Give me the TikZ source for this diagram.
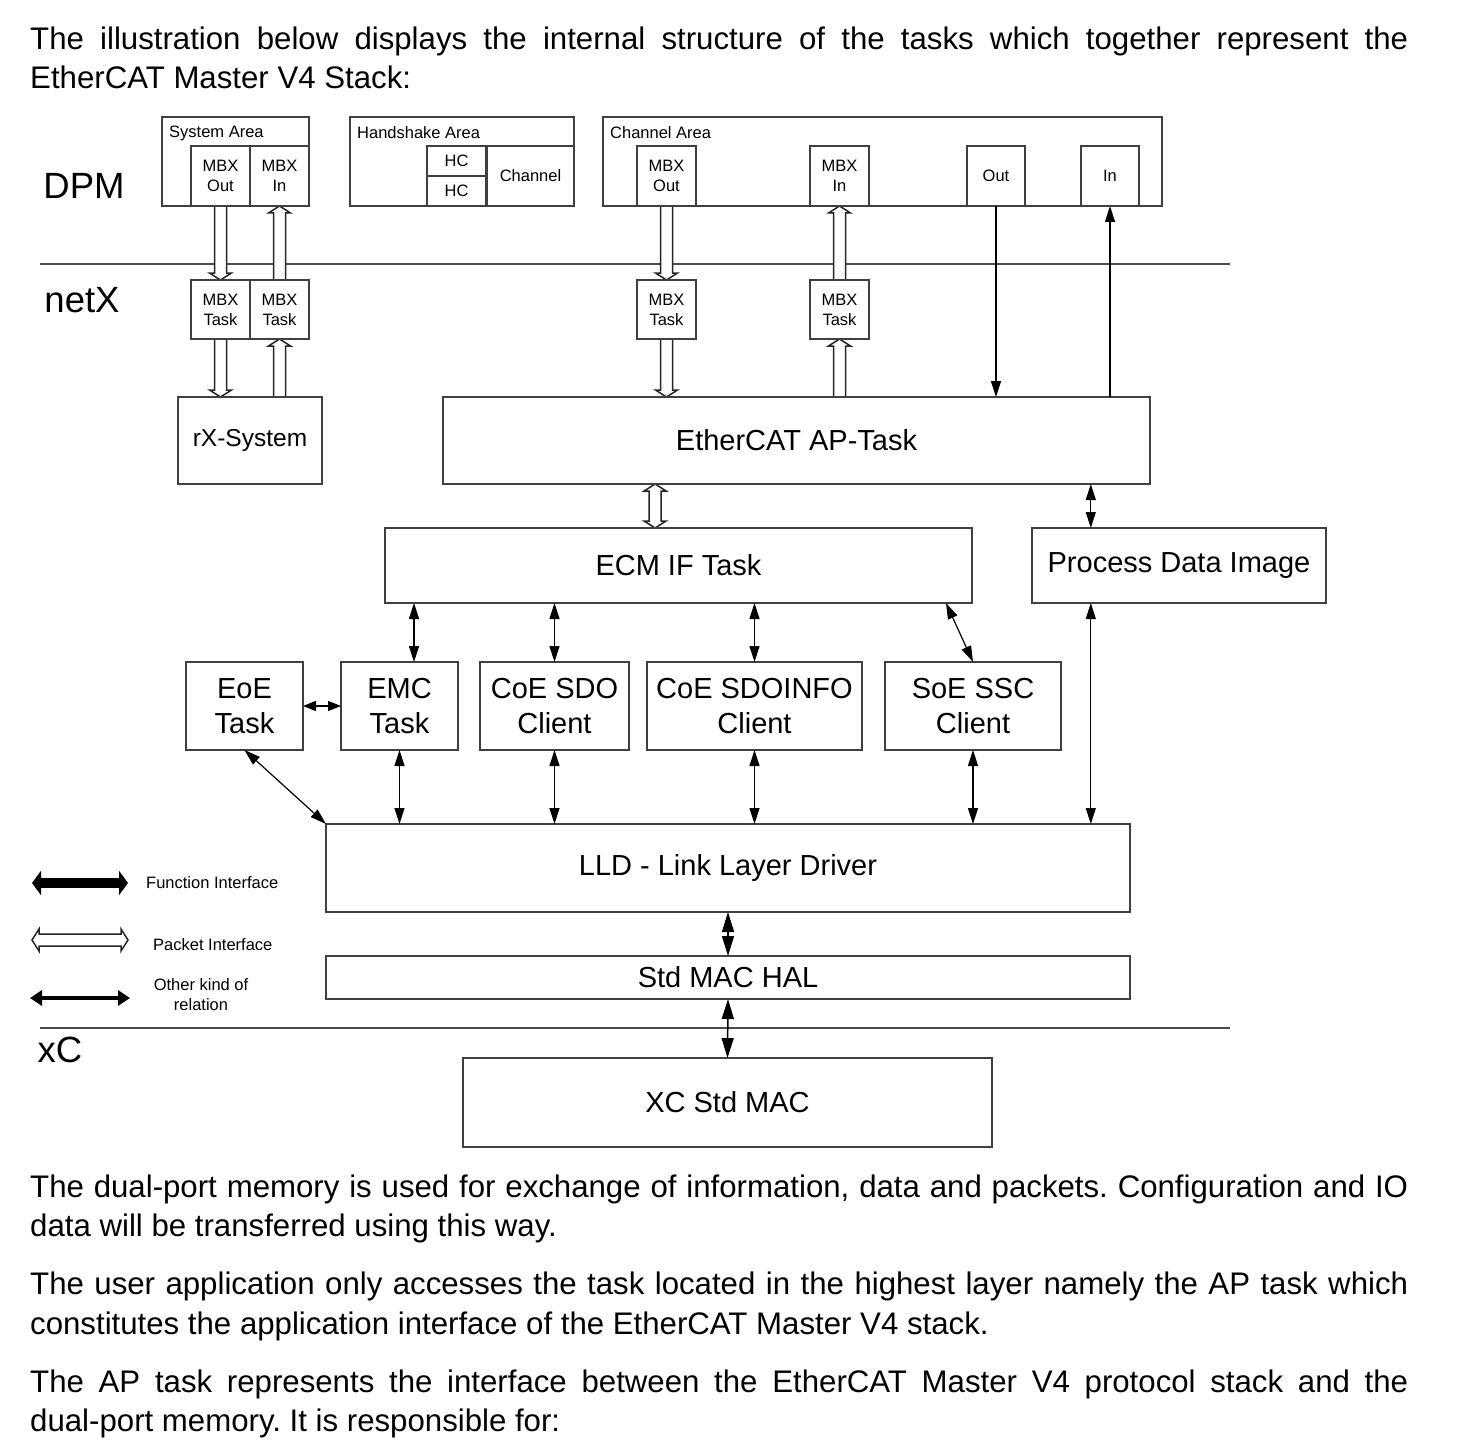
\documentclass[tikz,border=0pt]{standalone}
\usepackage{fontspec}
\setmainfont{Liberation Sans}
\usepackage{tikz}
\usetikzlibrary{positioning}
\usetikzlibrary{arrows.meta, calc}
\pgfdeclarelayer{background}
\pgfsetlayers{background,main}
\frenchspacing

\newcommand{\bodysize}{\fontsize{31.2}{39}\selectfont}
\newcommand{\tasksize}{\fontsize{29}{35}\selectfont}
\newcommand{\smallsize}{\fontsize{16.5}{20}\selectfont}
\newcommand{\layersize}{\fontsize{36.5}{40}\selectfont}

\tikzstyle{box} = [draw=black!75, line width=1.5pt, inner sep=0pt, outer sep=0pt, align=center]
\tikzstyle{task} = [box, font=\tasksize]
\tikzstyle{mbx} = [box, font=\smallsize]
\tikzstyle{areatext} = [inner sep=0pt, font=\smallsize, align=center]
\tikzstyle{bodytext} = [inner sep=0pt, font=\bodysize]
\tikzstyle{layertext} = [inner sep=0pt, font=\layersize]
\tikzstyle{layer} = [line width=1.5pt, draw=black!70]
\tikzstyle{pkt} = [draw=black!85, line width=1.5pt, fill=white, line join=miter]
\tikzstyle{arrow} = [line width=1.2pt, -{Triangle[length=16pt,width=10pt]}]
\tikzstyle{twoway} = [line width=1.2pt, {Triangle[length=16pt,width=10pt]}-{Triangle[length=16pt,width=10pt]}]
\tikzstyle{shortway} = [line width=1.2pt, {Triangle[length=13pt,width=10pt]}-{Triangle[length=13pt,width=10pt]}]
\tikzstyle{halway} = [line width=1.5pt, {Triangle[length=20pt,width=12pt]}-{Triangle[length=20pt,width=12pt]}]

% hollow packet arrow, head at #2
\newcommand{\pktarrow}[2]{%
  \coordinate (pkB) at ($#2!7pt!#1$);
  \filldraw[pkt] ($#1!6pt!90:#2$) -- ($(pkB)!6pt!90:#2$) -- ($(pkB)!11pt!90:#2$) -- #2
    -- ($(pkB)!11pt!-90:#2$) -- ($(pkB)!6pt!-90:#2$) -- ($#1!6pt!-90:#2$);
}
% hollow packet arrow, heads at both ends
\newcommand{\pktboth}[2]{%
  \coordinate (pkA) at ($#1!7pt!#2$);
  \coordinate (pkB) at ($#2!7pt!#1$);
  \filldraw[pkt] ($(pkA)!6pt!90:#2$) -- ($(pkB)!6pt!90:#2$) -- ($(pkB)!11pt!90:#2$) -- #2
    -- ($(pkB)!11pt!-90:#2$) -- ($(pkB)!6pt!-90:#2$) -- ($(pkA)!6pt!-90:#2$)
    -- ($(pkA)!11pt!-90:#2$) -- #1 -- ($(pkA)!11pt!90:#2$) -- cycle;
}

\begin{document}
\begin{tikzpicture}[x=1pt, y=-1pt]
	\useasboundingbox (0,0) rectangle (1483,1450);

	%Text above
	\node[bodytext, anchor=base west] (introA) at (30,50) {\makebox[1378pt][s]{The illustration below displays the internal structure of the tasks which together represent the}};
	\node[bodytext, anchor=base west] (introB) at (30,89) {EtherCAT Master V4 Stack:};

	%Layer names
	\node[layertext] (dpm) at (84,186) {DPM};
	\node[layertext] (netx) at (82,300) {netX};
	\node[layertext] (xc) at (60,1050) {xC};

	%System area
	\node[box, minimum width=147pt, minimum height=89pt, anchor=north west] (sysArea) at (162,117) {};
	\node[areatext, anchor=west] (sysLabel) at (169,133) {System Area};
	\node[mbx, minimum width=59pt, minimum height=60pt, anchor=north west] (sysOut) at (191,146) {MBX\\Out};
	\node[mbx, minimum width=59pt, minimum height=60pt, right=0pt of sysOut] (sysIn) {MBX\\In};

	%Handshake area
	\node[box, minimum width=224pt, minimum height=89pt, anchor=north west] (hsArea) at (350,117) {};
	\node[areatext, anchor=west] (hsLabel) at (357,133) {Handshake Area};
	\node[mbx, minimum width=59pt, minimum height=30pt, anchor=north west] (hcA) at (427,146) {HC};
	\node[mbx, minimum width=59pt, minimum height=30pt, below=0pt of hcA] (hcB) {HC};
	\node[mbx, minimum width=87pt, minimum height=60pt, anchor=north west] (hsChannel) at (487,146) {Channel};

	%Channel area
	\node[box, minimum width=559pt, minimum height=89pt, anchor=north west] (chArea) at (603,117) {};
	\node[areatext, anchor=west] (chLabel) at (610,133) {Channel Area};
	\node[mbx, minimum width=59pt, minimum height=60pt, anchor=north west] (chMbxOut) at (637,146) {MBX\\Out};
	\node[mbx, minimum width=59pt, minimum height=60pt, anchor=north west] (chMbxIn) at (810,146) {MBX\\In};
	\node[mbx, minimum width=58pt, minimum height=60pt, anchor=north west] (chOut) at (967,146) {Out};
	\node[mbx, minimum width=58pt, minimum height=60pt, anchor=north west] (chIn) at (1081,146) {In};

	%netX tasks
	\node[mbx, minimum width=59pt, minimum height=59pt, anchor=north west] (taskOut) at (191,280) {MBX\\Task};
	\node[mbx, minimum width=59pt, minimum height=59pt, right=0pt of taskOut] (taskIn) {MBX\\Task};
	\node[mbx, minimum width=59pt, minimum height=59pt, anchor=north west] (chTaskOut) at (637,280) {MBX\\Task};
	\node[mbx, minimum width=59pt, minimum height=59pt, anchor=north west] (chTaskIn) at (810,280) {MBX\\Task};
	\node[box, font=\fontsize{24.5}{30}\selectfont, minimum width=144pt, minimum height=87pt, anchor=north west] (rxSystem) at (178,397) {rX-System};
	\node[task, minimum width=707pt, minimum height=87pt, anchor=north west] (apTask) at (443,397) {EtherCAT AP-Task};
	\node[task, minimum width=587pt, minimum height=75pt, anchor=north west] (ecmIf) at (385,528) {ECM IF Task};
	\node[task, minimum width=294pt, minimum height=75pt, anchor=north west] (pdi) at (1032,528) {Process Data Image};

	%Clients
	\node[task, minimum width=117pt, minimum height=88pt, anchor=north west] (eoe) at (186,662) {EoE\\Task};
	\node[task, minimum width=117pt, minimum height=88pt, anchor=north west] (emc) at (341,662) {EMC\\Task};
	\node[task, minimum width=149pt, minimum height=88pt, anchor=north west] (coeSdo) at (480,662) {CoE SDO\\Client};
	\node[task, minimum width=215pt, minimum height=88pt, anchor=north west] (coeInfo) at (647,662) {CoE SDOINFO\\Client};
	\node[task, minimum width=176pt, minimum height=88pt, anchor=north west] (soeSsc) at (885,662) {SoE SSC\\Client};

	%Driver layers
	\node[task, minimum width=804pt, minimum height=88pt, anchor=north west] (lld) at (326,824) {LLD - Link Layer Driver};
	\node[task, minimum width=804pt, minimum height=43pt, anchor=north west] (halMac) at (326,956) {Std MAC HAL};
	\node[task, minimum width=529pt, minimum height=89pt, anchor=north west] (xcMac) at (463,1058) {XC Std MAC};

	%Legend
	\coordinate (fnL) at (32,883);
	\coordinate (fnR) at (128,883);
	\coordinate (pkL) at (32,940);
	\coordinate (pkR) at (128,940);
	\coordinate (otL) at (30,998);
	\coordinate (otR) at (130,998);
	\node[areatext, anchor=west] (fnText) at (146,883) {Function Interface};
	\node[areatext, anchor=west] (pkText) at (153,945) {Packet Interface};
	\node[areatext] (otText) at (201,995) {Other kind of\\relation};

	%Coordinates
	\coordinate (apLink) at ($(apTask.south west)!0.3!(apTask.south east)$);
	\coordinate (pdiTop) at ($(pdi.north west)!0.2!(pdi.north east)$);
	\coordinate (pdiBot) at ($(pdi.south west)!0.2!(pdi.south east)$);
	\coordinate (emcTop) at ([xshift=14.5pt]emc.north);
	\coordinate (soeLink) at ([xshift=-26pt]ecmIf.south east);

	%Lines and packet interfaces
	\begin{pgfonlayer}{background}
		\fill[white] (0,0) rectangle (1483,1450);
		\draw[layer] (40,264) -- (1230,264);
		\draw[layer] (40,1028) -- (1230,1028);
		\pktarrow{(sysOut.south)}{(taskOut.north)}
		\pktarrow{(taskIn.north)}{(sysIn.south)}
		\pktarrow{(taskOut.south)}{(taskOut.south |- rxSystem.north)}
		\pktarrow{(taskIn.south |- rxSystem.north)}{(taskIn.south)}
		\pktarrow{(chMbxOut.south)}{(chTaskOut.north)}
		\pktarrow{(chTaskOut.south)}{(chTaskOut.south |- apTask.north)}
		\pktarrow{(chTaskIn.north)}{(chMbxIn.south)}
		\pktarrow{(chTaskIn.south |- apTask.north)}{(chTaskIn.south)}
		\pktboth{(apLink)}{(apLink |- ecmIf.north)}
		\pktboth{(pkL)}{(pkR)}
	\end{pgfonlayer}

	%Arrows
	\draw[arrow] (chOut.south) -- (chOut.south |- apTask.north);
	\draw[arrow] (chIn.south |- apTask.north) -- (chIn.south);
	\draw[twoway] (pdiTop |- apTask.south) -- (pdiTop);
	\draw[twoway] (ecmIf.south -| emcTop) -- (emcTop);
	\draw[twoway] (coeSdo.north |- ecmIf.south) -- (coeSdo.north);
	\draw[twoway] (coeInfo.north |- ecmIf.south) -- (coeInfo.north);
	\draw[twoway] (soeLink) -- (soeSsc.north);
	\draw[shortway] (eoe.east) -- (emc.west);
	\draw[twoway] (eoe.south) -- (lld.north west);
	\draw[twoway] (emc.south) -- (emc.south |- lld.north);
	\draw[twoway] (coeSdo.south) -- (coeSdo.south |- lld.north);
	\draw[twoway] (coeInfo.south) -- (coeInfo.south |- lld.north);
	\draw[twoway] (soeSsc.south) -- (soeSsc.south |- lld.north);
	\draw[twoway] (pdiBot) -- (pdiBot |- lld.north);
	\draw[halway] (lld.south) -- (halMac.north);
	\draw[halway] (halMac.south) -- (xcMac.north);
	\draw[line width=10pt, {Triangle[length=9pt,width=24pt]}-{Triangle[length=9pt,width=24pt]}] (fnL) -- (fnR);
	\draw[line width=4pt, {Triangle[length=12pt,width=15pt]}-{Triangle[length=12pt,width=15pt]}] (otL) -- (otR);

	%Text below
	\node[bodytext, anchor=base west] (dpmA) at (30,1197) {\makebox[1378pt][s]{The dual-port memory is used for exchange of information, data and packets. Configuration and IO}};
	\node[bodytext, anchor=base west] (dpmB) at (30,1236) {data will be transferred using this way.};
	\node[bodytext, anchor=base west] (userA) at (30,1294) {\makebox[1378pt][s]{The user application only accesses the task located in the highest layer namely the AP task which}};
	\node[bodytext, anchor=base west] (userB) at (30,1334) {constitutes the application interface of the EtherCAT Master V4 stack.};
	\node[bodytext, anchor=base west] (apA) at (30,1392) {\makebox[1378pt][s]{The AP task represents the interface between the EtherCAT Master V4 protocol stack and the}};
	\node[bodytext, anchor=base west] (apB) at (30,1431) {dual-port memory. It is responsible for:};
\end{tikzpicture}
\end{document}
